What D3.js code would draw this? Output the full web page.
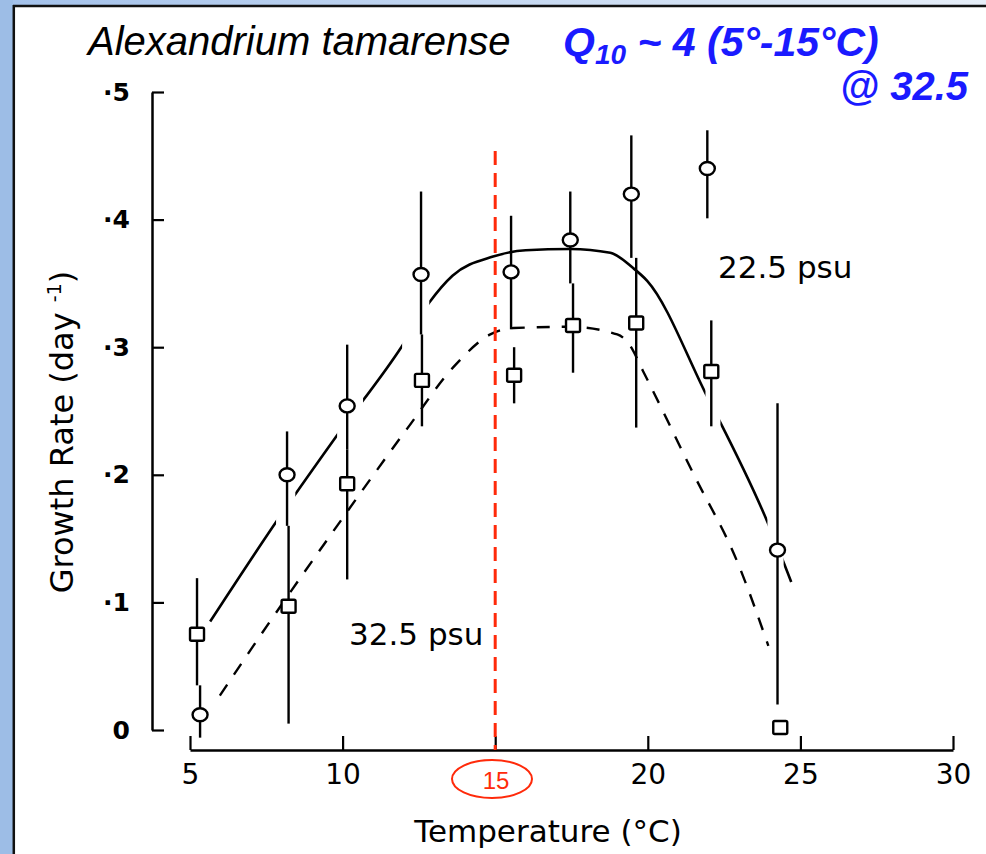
<!DOCTYPE html>
<html>
<head>
<meta charset="utf-8">
<script src="https://cdn.jsdelivr.net/npm/d3@7"></script>
<style>
  body { margin: 0; background: #fff; }
  svg { display: block; }
</style>
</head>
<body>
<div class="grafico"></div>
<script>
const width = 986, height = 854;

// 22.5 psu (circles)
const temps22 = [5.33, 8.18, 10.15, 12.57, 15.52, 17.46, 19.46, 21.95, 24.25];
const rate22  = [0.012, 0.200, 0.254, 0.357, 0.359, 0.384, 0.420, 0.440, 0.141];
const lo22    = [-0.006, 0.16, 0.22, 0.31, 0.314, 0.35, 0.37, 0.401, 0.02];
const hi22    = [0.035, 0.234, 0.302, 0.422, 0.403, 0.422, 0.466, 0.47, 0.256];

// 32.5 psu (squares)
const temps32 = [5.23, 8.23, 10.15, 12.6, 15.62, 17.55, 19.62, 22.08, 24.34];
const rate32  = [0.075, 0.097, 0.193, 0.274, 0.278, 0.317, 0.319, 0.281, 0.002];
const lo32    = [0.035, 0.005, 0.118, 0.238, 0.256, 0.28, 0.237, 0.238, null];
const hi32    = [0.119, 0.16, 0.22, 0.31, 0.300, 0.35, 0.37, 0.321, null];

// fitted curves
const curve22T = [5.66, 7.82, 9.82, 11.95, 12.84, 13.6, 14.93, 16.0, 17.46, 18.77, 19.52, 19.98, 21.89, 23.92, 24.7];
const curve22V = [0.085, 0.163, 0.231, 0.301, 0.335, 0.356, 0.371, 0.376, 0.377, 0.374, 0.362, 0.352, 0.264, 0.163, 0.116];
const curve22Gaps = [[7.82, 8.45], [9.82, 10.67], [11.95, 12.84], [21.89, 22.38], [23.92, 24.45]];

const curve32T = [5.98, 7.62, 9.82, 12.11, 13.69, 14.84, 15.6, 17.46, 19.0, 19.4, 19.85, 21.49, 22.93, 23.95];
const curve32V = [0.027, 0.085, 0.160, 0.236, 0.286, 0.310, 0.315, 0.316, 0.310, 0.302, 0.281, 0.201, 0.132, 0.066];

const xTicks = [5, 10, 15, 20, 25, 30];
const yTicks = [0, 0.1, 0.2, 0.3, 0.4, 0.5];

const svg = d3.select(".grafico")
    .append("svg")
    .attr("width", width)
    .attr("height", height);

// slide frame
const grad = svg.append("defs").append("linearGradient").attr("id", "topband");
grad.append("stop").attr("offset", "0%").attr("stop-color", "#a3c1ea");
grad.append("stop").attr("offset", "100%").attr("stop-color", "#e6eef8");
svg.append("rect").attr("x", 0).attr("y", 0).attr("width", width).attr("height", 5).attr("fill", "url(#topband)");
svg.append("rect").attr("x", 0).attr("y", 0).attr("width", 13).attr("height", height).attr("fill", "#9dbde6");
svg.append("line").attr("x1", 13).attr("x2", width).attr("y1", 6).attr("y2", 6)
    .attr("stroke", "#111").attr("stroke-width", 2.5);
svg.append("line").attr("x1", 13.8).attr("x2", 13.8).attr("y1", 5).attr("y2", height)
    .attr("stroke", "#111").attr("stroke-width", 2.5);

const x = d3.scaleLinear().domain([5, 30]).range([190, 953]);
const y = d3.scaleLinear().domain([0, 0.5]).range([730, 92]);

// axes
const xAxis = d3.axisBottom(x)
    .tickValues(xTicks)
    .tickSizeInner(-14)
    .tickSizeOuter(0)
    .tickPadding(14)
    .tickFormat(d => d === 15 ? "" : d);

const gx = svg.append("g")
    .attr("transform", "translate(0,750)")
    .call(xAxis);
gx.select(".domain").attr("stroke-width", 2.5);
gx.selectAll(".tick line").attr("stroke-width", 2.2);
gx.selectAll("text")
    .attr("font-family", "DejaVu Sans")
    .attr("font-size", 28)
    .attr("fill", "#000");

const yAxis = d3.axisLeft(y)
    .tickValues(yTicks)
    .tickSizeInner(-12)
    .tickSizeOuter(0)
    .tickPadding(22)
    .tickFormat(d => d === 0 ? "0" : "\u00b7" + Math.round(d * 10));

const gy = svg.append("g")
    .attr("transform", "translate(152,0)")
    .call(yAxis);
gy.select(".domain").attr("stroke-width", 2.5);
gy.selectAll(".tick line").attr("stroke-width", 2.2);
gy.selectAll("text")
    .attr("font-family", "DejaVu Sans")
    .attr("font-weight", "bold")
    .attr("font-size", 25)
    .attr("fill", "#000");

// curves
const line = d3.line()
    .x(d => x(d[0]))
    .y(d => y(d[1]))
    .curve(d3.curveMonotoneX);

const mask = svg.select("defs").append("mask").attr("id", "gaps22");
mask.append("rect").attr("x", 0).attr("y", 0).attr("width", width).attr("height", height).attr("fill", "#fff");
mask.selectAll("rect.gap")
    .data(curve22Gaps)
    .enter().append("rect")
    .attr("class", "gap")
    .attr("x", d => x(d[0]))
    .attr("width", d => x(d[1]) - x(d[0]))
    .attr("y", 0)
    .attr("height", height)
    .attr("fill", "#000");

svg.append("path")
    .datum(curve22T.map((t, i) => [t, curve22V[i]]))
    .attr("d", line)
    .attr("fill", "none")
    .attr("stroke", "#000")
    .attr("stroke-width", 2.6)
    .attr("mask", "url(#gaps22)");

svg.append("path")
    .datum(curve32T.map((t, i) => [t, curve32V[i]]))
    .attr("d", line)
    .attr("fill", "none")
    .attr("stroke", "#000")
    .attr("stroke-width", 2.4)
    .attr("stroke-dasharray", "13,12");

// error bars
const bars = temps22.map((t, i) => ({ t, lo: lo22[i], hi: hi22[i] }))
    .concat(temps32.map((t, i) => ({ t, lo: lo32[i], hi: hi32[i] })))
    .filter(d => d.lo !== null);

svg.selectAll("line.err")
    .data(bars)
    .enter().append("line")
    .attr("class", "err")
    .attr("x1", d => x(d.t))
    .attr("x2", d => x(d.t))
    .attr("y1", d => y(d.lo))
    .attr("y2", d => y(d.hi))
    .attr("stroke", "#000")
    .attr("stroke-width", 2.4);

// red 15 degree marker
svg.append("line")
    .attr("x1", x(15)).attr("x2", x(15))
    .attr("y1", 151).attr("y2", 750)
    .attr("stroke", "#ff2a0a")
    .attr("stroke-width", 3)
    .attr("stroke-dasharray", "14,8");

// points
svg.selectAll("ellipse.c22")
    .data(temps22.map((t, i) => [t, rate22[i]]))
    .enter().append("ellipse")
    .attr("class", "c22")
    .attr("cx", d => x(d[0]))
    .attr("cy", d => y(d[1]))
    .attr("rx", 7.5)
    .attr("ry", 6.5)
    .attr("fill", "#fff")
    .attr("stroke", "#000")
    .attr("stroke-width", 2.4);

svg.selectAll("rect.s32")
    .data(temps32.map((t, i) => [t, rate32[i]]))
    .enter().append("rect")
    .attr("class", "s32")
    .attr("x", d => x(d[0]) - 7)
    .attr("y", d => y(d[1]) - 6.5)
    .attr("width", 14)
    .attr("height", 13)
    .attr("rx", 1.5)
    .attr("fill", "#fff")
    .attr("stroke", "#000")
    .attr("stroke-width", 2.4);

svg.append("ellipse")
    .attr("cx", 492).attr("cy", 779)
    .attr("rx", 40).attr("ry", 19)
    .attr("fill", "none")
    .attr("stroke", "#ff2a0a")
    .attr("stroke-width", 2);

svg.append("text")
    .attr("x", 496).attr("y", 789)
    .attr("text-anchor", "middle")
    .attr("font-family", "Liberation Sans")
    .attr("font-size", 24)
    .attr("fill", "#ff2a0a")
    .text("15");

// labels
svg.append("text")
    .attr("x", 88).attr("y", 55)
    .attr("font-family", "Liberation Sans")
    .attr("font-style", "italic")
    .attr("font-size", 40)
    .text("Alexandrium tamarense");

const q = svg.append("text")
    .attr("x", 563).attr("y", 56)
    .attr("font-family", "Liberation Sans")
    .attr("font-style", "italic")
    .attr("font-weight", "bold")
    .attr("font-size", 41)
    .attr("fill", "#1a1aff");
q.append("tspan").text("Q");
q.append("tspan").attr("font-size", 28).attr("dy", 8).text("10");
q.append("tspan").attr("dy", -8).text(" ~ 4 (5\u00b0-15\u00b0C)");

svg.append("text")
    .attr("x", 968).attr("y", 100)
    .attr("text-anchor", "end")
    .attr("font-family", "Liberation Sans")
    .attr("font-style", "italic")
    .attr("font-weight", "bold")
    .attr("font-size", 40)
    .attr("fill", "#1a1aff")
    .text("@ 32.5");

svg.append("text")
    .attr("x", 718).attr("y", 278)
    .attr("font-family", "DejaVu Sans")
    .attr("font-size", 31)
    .text("22.5 psu");

svg.append("text")
    .attr("x", 349).attr("y", 645)
    .attr("font-family", "DejaVu Sans")
    .attr("font-size", 31)
    .text("32.5 psu");

svg.append("text")
    .attr("x", 548).attr("y", 842)
    .attr("text-anchor", "middle")
    .attr("font-family", "DejaVu Sans")
    .attr("font-size", 31)
    .text("Temperature (\u00b0C)");

const yl = svg.append("text")
    .attr("transform", "translate(73,432) rotate(-90)")
    .attr("text-anchor", "middle")
    .attr("font-family", "DejaVu Sans")
    .attr("font-size", 32);
yl.append("tspan").text("Growth Rate (day ");
yl.append("tspan").attr("font-size", 19).attr("dy", -12).text("-1");
yl.append("tspan").attr("dy", 12).text(")");
</script>
</body>
</html>
